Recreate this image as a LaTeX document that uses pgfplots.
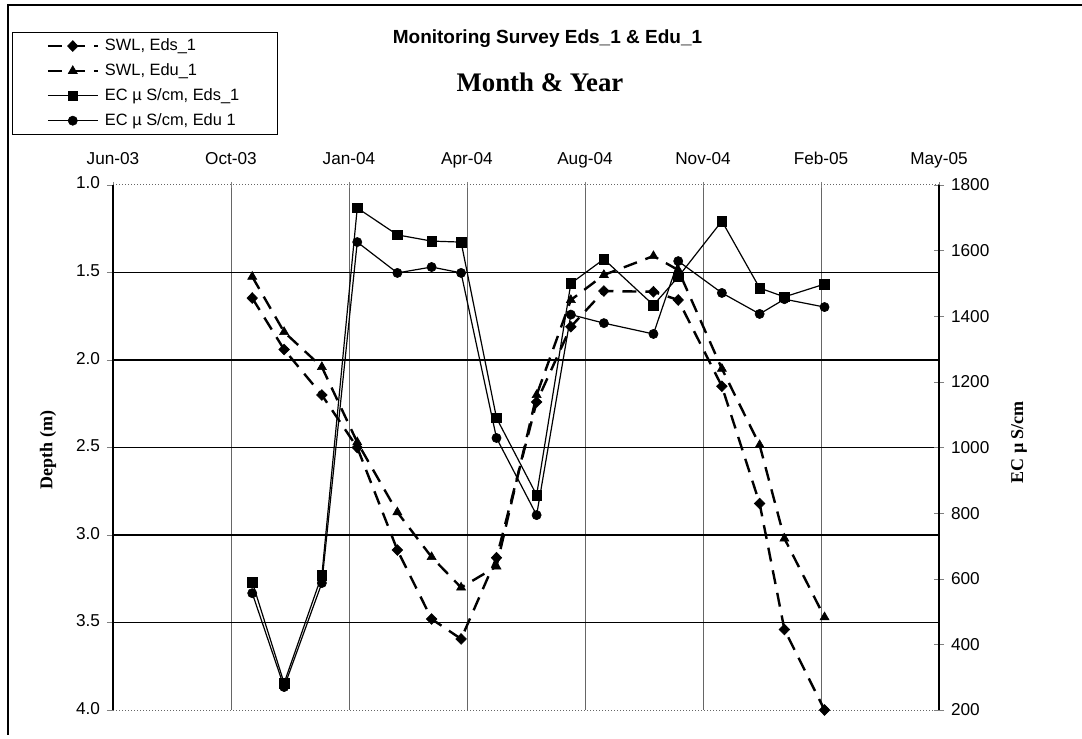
\documentclass[border=0pt]{standalone}
\usepackage{pgfplots}
\pgfplotsset{compat=1.18}
\usepackage{fontspec}
\setmainfont{Liberation Sans}
\newfontfamily\tnr{Liberation Serif}

\pgfplotstableread{
day swlA swlB ecA ecB
118 1.646 1.524 590 556
145 1.94 1.84 282 270
177 2.20 2.04 611 587
207 2.50 2.47 1730 1626
241 3.086 2.87 1648 1532
270 3.48 3.126 1629 1550
295 3.594 3.30 1626 1532
325 3.13 3.18 1090 1029
359 2.24 2.20 855 794
388 1.81 1.657 1500 1405
416 1.606 1.514 1574 1379
458 1.61 1.406 1434 1346
479 1.657 1.486 1520 1568
516 2.15 2.05 1690 1471
548 2.82 2.486 1486 1407
569 3.54 3.02 1459 1452
603 4.0 3.47 1498 1428
}\datatable

\pgfplotsset{
  common/.style={
    width=413pt, height=262.5pt, scale only axis,
    at={(56.5pt,14.5pt)}, anchor=south west,
    xmin=0, xmax=700,
    clip mode=individual,
    tick label style={font=\fontsize{8.6}{10}\selectfont},
    /pgf/number format/assume math mode=true,
    /pgf/number format/1000 sep={},
  },
  longleg/.style={/pgfplots/legend image code/.code={\draw[mark repeat=2,mark phase=2,##1] plot coordinates {(0pt,0pt) (12.5pt,0pt) (25pt,0pt)};}},
  swlA/.style={black, line width=1.2pt, dash pattern=on 7pt off 4.5pt,
    mark=diamond*, mark size=2.7pt, mark options={solid, xscale=1.3, line width=0.3pt}},
  swlB/.style={black, line width=1.2pt, dash pattern=on 7pt off 4.5pt,
    mark=triangle*, mark size=2.6pt, mark options={solid, line width=0.3pt}},
  ecA/.style={black, line width=0.6pt, solid,
    mark=square*, mark size=2.4pt, mark options={solid, line width=0.3pt}},
  ecB/.style={black, line width=0.6pt, solid,
    mark=*, mark size=2.3pt, mark options={solid, line width=0.3pt}},
}

\begin{document}
\begin{tikzpicture}[x=1pt,y=1pt]
\useasboundingbox (0,0) rectangle (541,369.5);
\draw[line width=0.6pt] (4,2) -- (4,367) -- (541,367);

\begin{axis}[
  common,
  separate axis lines,
  x axis line style={black!60, densely dotted, line width=0.5pt},
  y axis line style={black, line width=0.7pt},
  y dir=reverse, ymin=1, ymax=4,
  ytick={1,1.5,2,2.5,3,3.5,4},
  yticklabel style={/pgf/number format/.cd,fixed,fixed zerofill,precision=1},
  ytick pos=left, ytick align=outside,
  xtick={0,100,200,300,400,500,600,700},
  xticklabels={Jun-03,Oct-03,Jan-04,Apr-04,Aug-04,Nov-04,Feb-05,May-05},
  xtick pos=right, xticklabel pos=right, xtick align=center,
  typeset ticklabels with strut,
  xticklabel style={yshift=2pt},
  major tick length=3pt,
  xmajorgrids, major x grid style={black!60, line width=0.5pt},
  extra y ticks={1.5,2,2.5,3,3.5}, extra y tick labels={},
  extra y tick style={grid=major, major grid style={black, line width=0.75pt}, major tick length=0pt},
  ylabel={\tnr\bfseries Depth (m)},
  ylabel style={at={(axis description cs:-0.0787,0.495)}, anchor=center, font=\fontsize{9}{10}\selectfont},
]
\addplot[swlA] table[x=day,y=swlA]{\datatable};
\addplot[swlB] table[x=day,y=swlB]{\datatable};
\end{axis}

\begin{axis}[
  common,
  axis x line=none, axis y line*=right,
  y axis line style={black, line width=0.7pt},
  ymin=200, ymax=1800,
  ytick={200,400,600,800,1000,1200,1400,1600,1800},
  ytick align=center, major tick length=5pt,
  ylabel={\tnr\bfseries EC µ S/cm},
  ylabel style={at={(axis description cs:1.0969,0.51)}, anchor=center, rotate=0, font=\fontsize{9}{10}\selectfont},
  every axis plot post/.append style={longleg},
  legend cell align=left,
  legend style={at={(axis description cs:-0.1223,1.2914)}, anchor=north west,
    draw=black, line width=0.6pt, font=\fontsize{8.2}{9.8}\selectfont,
    inner xsep=17pt, inner ysep=1pt, row sep=1pt, column sep=1pt},
]
\addlegendimage{swlA}\addlegendentry{SWL, Eds\_1}
\addlegendimage{swlB}\addlegendentry{SWL, Edu\_1}
\addplot[ecA] table[x=day,y=ecA]{\datatable};\addlegendentry{EC µ S/cm, Eds\_1}
\addplot[ecB] table[x=day,y=ecB]{\datatable};\addlegendentry{EC µ S/cm, Edu 1}
\end{axis}

\node[anchor=base, font=\bfseries\fontsize{9.5}{11}\selectfont] at (273.75,347.5) {Monitoring Survey Eds\_1 \& Edu\_1};
\node[anchor=base, font=\tnr\bfseries\fontsize{13.4}{15}\selectfont] at (270,323.5) {Month \& Year};
\end{tikzpicture}
\end{document}
